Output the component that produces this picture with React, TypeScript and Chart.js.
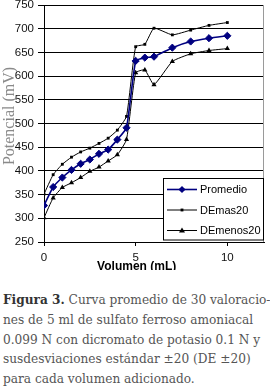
import React, { useEffect, useRef } from "react";
import { Chart, registerables } from "chart.js";

Chart.register(...registerables);

const volumes = [0, 0.5, 1, 1.5, 2, 2.5, 3, 3.5, 4, 4.5, 5, 5.5, 6, 7, 8, 9, 10];
const promedio = [327, 366, 386, 402, 415, 424, 436, 445, 466, 491, 632, 639, 641, 660, 673, 680, 685];
const demas20 = [351, 392, 414, 429, 440, 448, 458, 469, 486, 515, 662, 667, 701, 687, 697, 707, 713];
const demenos20 = [301, 343, 365, 375, 386, 399, 408, 421, 434, 466, 607, 613, 582, 631, 647, 654, 658];
const xTicks = [0, 5, 10];
const seriesNames = ["Promedio", "DEmas20", "DEmenos20"];
const xTitle = "Volumen (mL)";
const yTitle = "Potencial (mV)";
const captionBold = "Figura 3.";
const captionLines = [
  " Curva promedio de 30 valoracio-",
  "nes de 5 ml de sulfato ferroso amoniacal",
  "0.099 N con dicromato de potasio 0.1 N y",
  "susdesviaciones estándar ±20 (DE ±20)",
  "para cada volumen adicionado.",
];

const SANS = "'Liberation Sans', Arial, sans-serif";

function drawMarker(ctx: CanvasRenderingContext2D, style: string, r: number, x: number, y: number, color: string) {
  ctx.fillStyle = color;
  ctx.beginPath();
  if (style === "rectRot") {
    ctx.moveTo(x, y - r);
    ctx.lineTo(x + r, y);
    ctx.lineTo(x, y + r);
    ctx.lineTo(x - r, y);
    ctx.closePath();
  } else if (style === "triangle") {
    ctx.moveTo(x, y - r);
    ctx.lineTo(x + r, y + r * 0.7);
    ctx.lineTo(x - r, y + r * 0.7);
    ctx.closePath();
  } else {
    const s = r * Math.SQRT1_2;
    ctx.rect(x - s, y - s, 2 * s, 2 * s);
  }
  ctx.fill();
}

const extrasPlugin = {
  id: "extras",
  afterDraw(chart: any) {
    const { ctx, chartArea } = chart;
    const xs = chart.scales.x;
    ctx.save();
    // right plot border
    ctx.strokeStyle = "#9a9a9a";
    ctx.lineWidth = 1;
    ctx.beginPath();
    ctx.moveTo(Math.round(chartArea.right) - 0.5, chartArea.top);
    ctx.lineTo(Math.round(chartArea.right) - 0.5, chartArea.bottom);
    ctx.stroke();

    // axis titles
    ctx.fillStyle = "#000";
    ctx.font = `bold 12px ${SANS}`;
    ctx.textAlign = "center";
    ctx.textBaseline = "middle";
    ctx.fillText(xTitle, xs.getPixelForValue(5) + 1, 267);

    ctx.save();
    ctx.translate(10, 116);
    ctx.rotate(-Math.PI / 2);
    ctx.fillStyle = "#8a8a8a";
    ctx.font = `16px 'Liberation Serif', 'Times New Roman', serif`;
    ctx.fillText(yTitle, 0, 0);
    ctx.restore();

    // legend
    const bx = 163.5, by = 178.5, bw = 100, bh = 61.5;
    ctx.fillStyle = "#fff";
    ctx.fillRect(bx, by, bw, bh);
    ctx.strokeStyle = "#000";
    ctx.lineWidth = 1;
    ctx.strokeRect(bx, by, bw, bh);
    const rows = [189.5, 210, 230.5];
    chart.data.datasets.forEach((ds: any, i: number) => {
      const y = rows[i];
      ctx.strokeStyle = ds.borderColor;
      ctx.lineWidth = ds.borderWidth;
      ctx.beginPath();
      ctx.moveTo(167, y);
      ctx.lineTo(197, y);
      ctx.stroke();
      drawMarker(ctx, ds.pointStyle, ds.pointRadius, 182, y, ds.pointBackgroundColor);
      ctx.fillStyle = "#000";
      ctx.font = `11px ${SANS}`;
      ctx.textAlign = "left";
      ctx.textBaseline = "middle";
      ctx.fillText(ds.label, 200, y + 0.5);
    });
    ctx.restore();
  },
};

export default function App() {
  const ref = useRef<HTMLCanvasElement>(null);
  useEffect(() => {
    if (!ref.current) return;
    const mk = (vals: number[]) => vals.map((v, i) => ({ x: volumes[i], y: v }));
    const chart = new Chart(ref.current, {
      type: "line",
      data: {
        datasets: [
          {
            label: seriesNames[0],
            data: mk(promedio),
            borderColor: "#000080",
            backgroundColor: "#000080",
            pointBackgroundColor: "#000080",
            pointBorderColor: "#000080",
            borderWidth: 1.6,
            pointStyle: "rectRot",
            pointRadius: 3.6,
            pointBorderWidth: 1,
            tension: 0.15,
          },
          {
            label: seriesNames[1],
            data: mk(demas20),
            borderColor: "#000",
            backgroundColor: "#000",
            pointBackgroundColor: "#000",
            pointBorderColor: "#000",
            borderWidth: 1,
            pointStyle: "rect",
            pointRadius: 2,
            pointBorderWidth: 0,
            tension: 0.15,
          },
          {
            label: seriesNames[2],
            data: mk(demenos20),
            borderColor: "#000",
            backgroundColor: "#000",
            pointBackgroundColor: "#000",
            pointBorderColor: "#000",
            borderWidth: 1,
            pointStyle: "triangle",
            pointRadius: 3,
            pointBorderWidth: 0,
            tension: 0.15,
          },
        ] as any,
      },
      options: {
        animation: false,
        responsive: true,
        maintainAspectRatio: false,
        layout: { padding: { top: 5, right: 6, left: 0, bottom: 0 } },
        plugins: { legend: { display: false }, tooltip: { enabled: false } },
        scales: {
          x: {
            type: "linear",
            min: 0,
            max: 12,
            afterBuildTicks: (s: any) => {
              s.ticks = xTicks.map((v) => ({ value: v }));
            },
            afterFit: (s: any) => {
              s.height = 28;
              s.paddingLeft = 0;
              s.paddingRight = 0;
            },
            ticks: {
              color: "#111",
              font: { family: SANS, size: 11.5 },
              padding: 5,
              maxRotation: 0,
              autoSkip: false,
            },
            grid: { drawOnChartArea: false, drawTicks: true, tickLength: 4, color: "#000" },
            border: { display: true, color: "#000" },
          },
          y: {
            type: "linear",
            min: 250,
            max: 750,
            afterFit: (s: any) => {
              s.width = 44;
              s.paddingTop = 0;
              s.paddingBottom = 0;
            },
            ticks: {
              stepSize: 50,
              color: "#111",
              font: { family: SANS, size: 11.5 },
              padding: 4,
            },
            grid: { color: "#000", lineWidth: 1, tickLength: 6, drawTicks: true },
            border: { display: true, color: "#000" },
          },
        },
      } as any,
      plugins: [extrasPlugin],
    });
    return () => chart.destroy();
  }, []);

  return (
    <div style={{ position: "absolute", left: 0, top: 0, width: 270, height: 388, background: "#fff" }}>
      <div style={{ position: "relative", width: 270, height: 270 }}>
        <canvas ref={ref} />
      </div>
      <div
        style={{
          position: "absolute",
          left: 3,
          top: 290,
          width: 268,
          fontFamily: "'DejaVu Serif Condensed', 'DejaVu Serif', serif",
          fontSize: 13.5,
          lineHeight: "19.75px",
          color: "#555",
          whiteSpace: "nowrap",
        }}
      >
        {captionLines.map((l, i) => (
          <div key={i}>
            {i === 0 ? <span style={{ fontWeight: "bold", color: "#333" }}>{captionBold}</span> : null}
            {l}
          </div>
        ))}
      </div>
    </div>
  );
}
